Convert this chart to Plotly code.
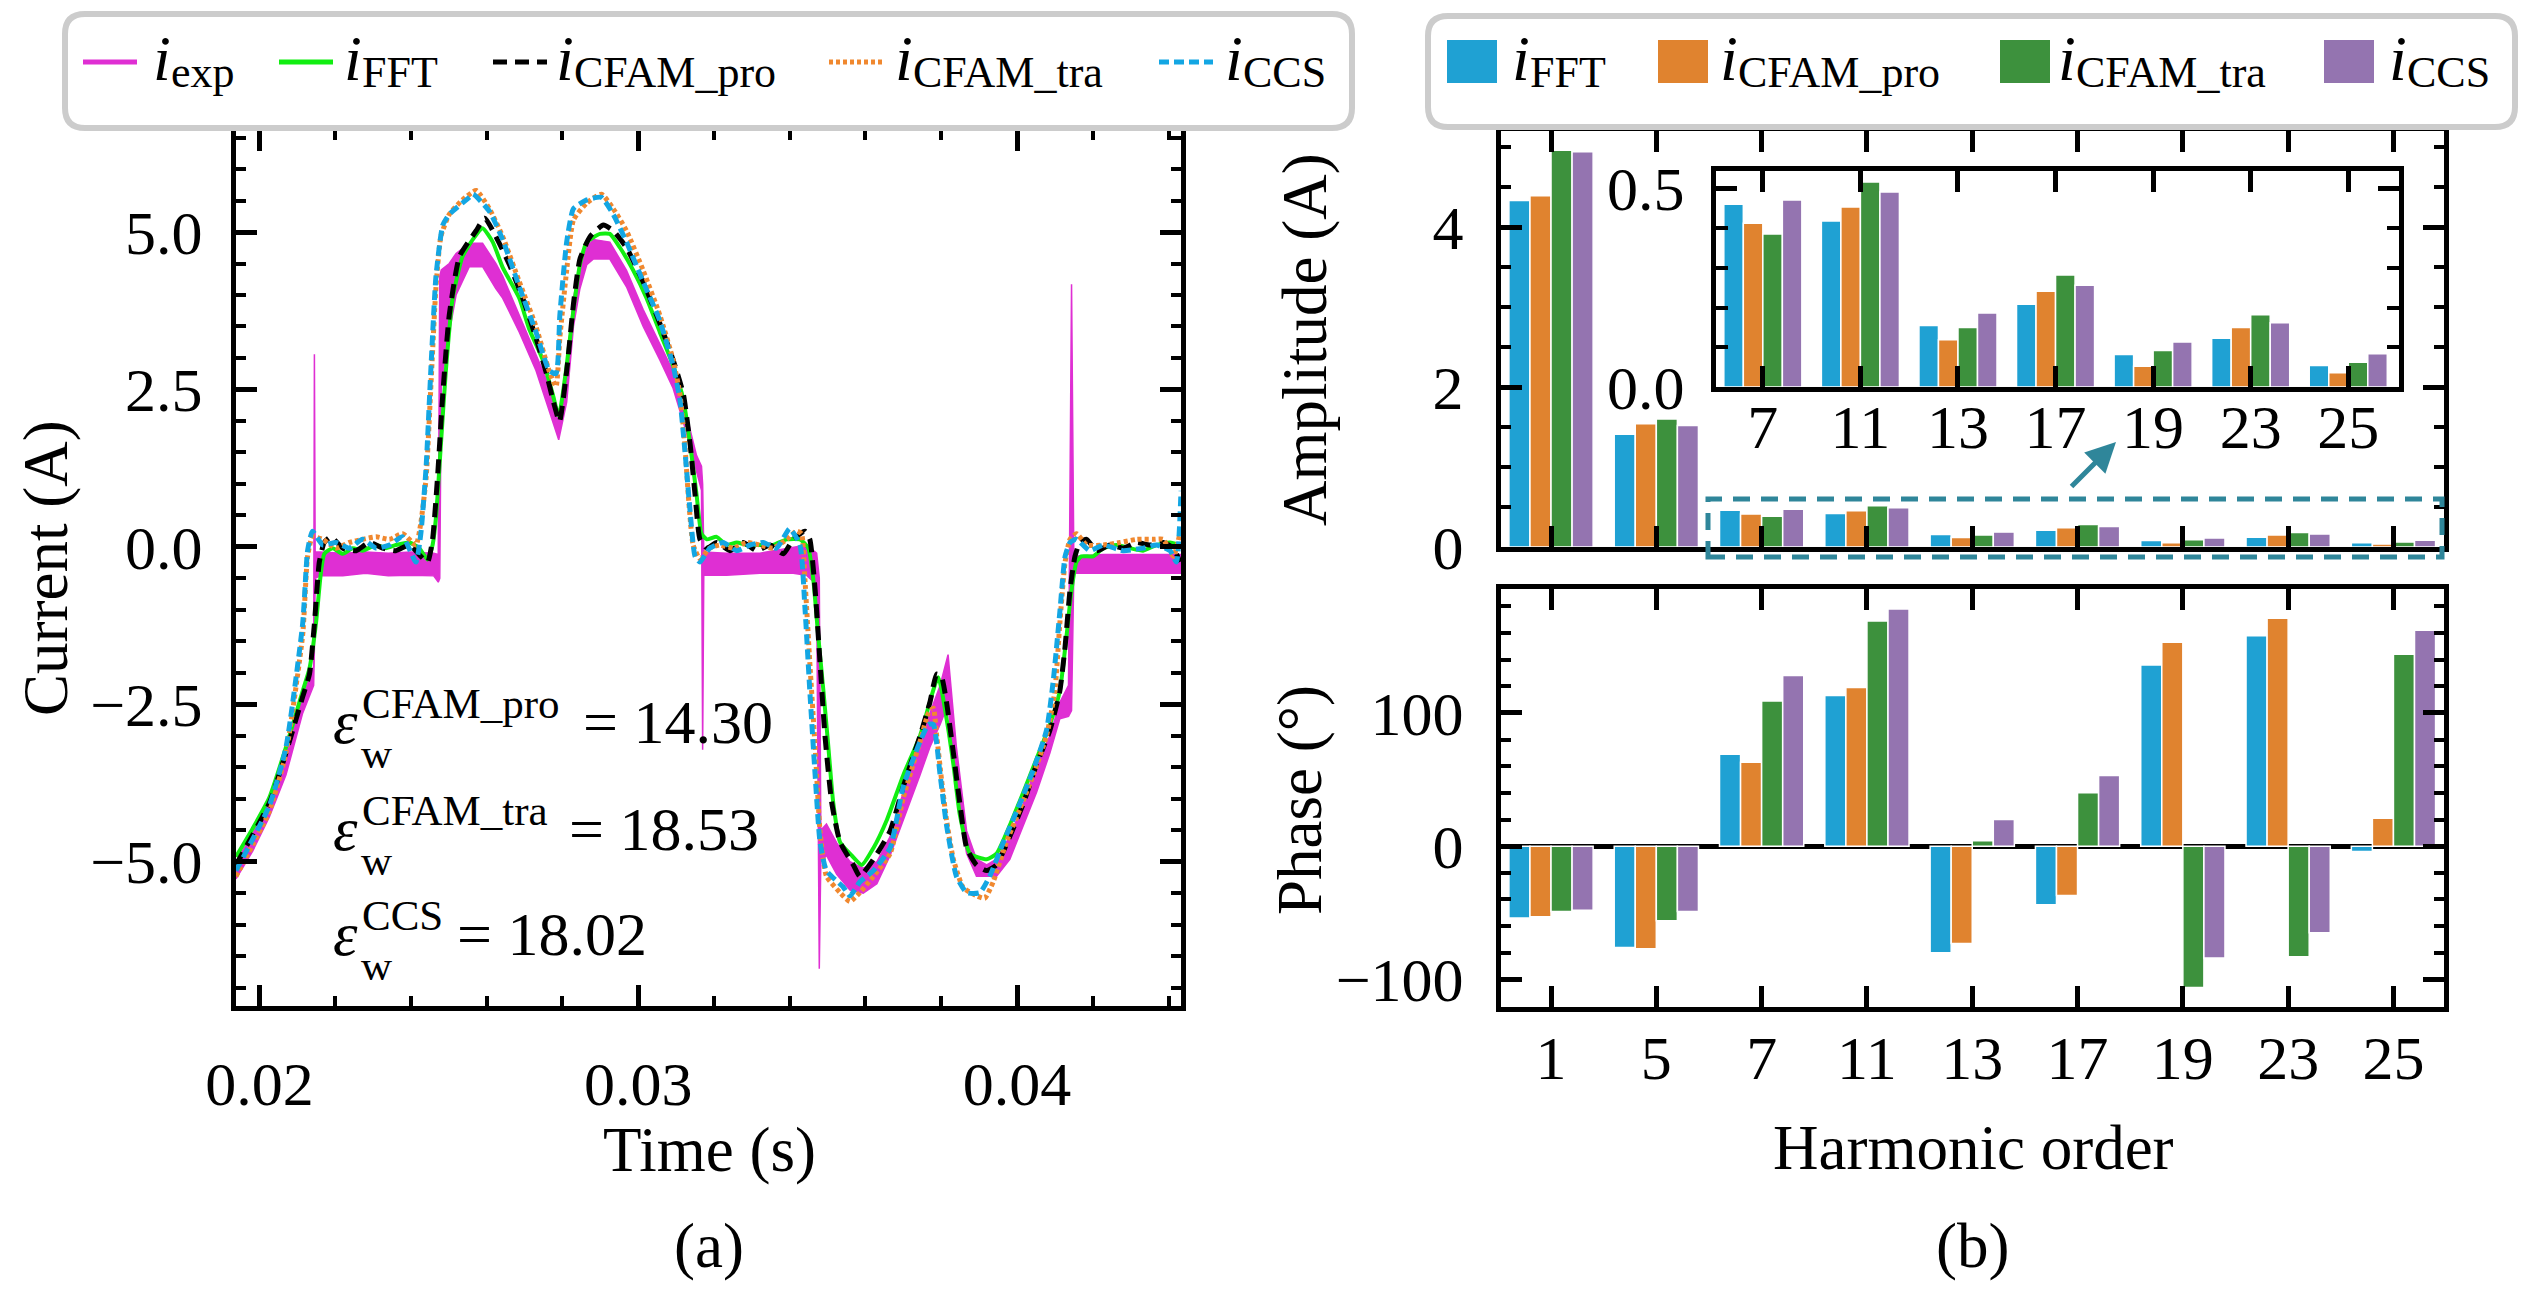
import plotly.graph_objects as go

# --- figure size; the page body keeps its 8 px margin, so the figure is
#     made 16 px smaller and layout positions are measured from the page corner ---
PAGE_OFF = 8
W, H = 2526, 1276
FONT = "Liberation Serif"


def px(x):
    return (x - PAGE_OFF) / W


def py(y):
    return 1 - (y - PAGE_OFF) / H


# --- (a) time-domain currents (t in ms, i in A) ---
t_exp = [19.38, 19.82, 20.26, 20.70, 21.14, 21.36, 21.43, 21.45, 21.47, 21.60, 22.20, 22.80,
         23.40, 24.00, 24.60, 24.72, 24.76, 24.80, 25.01, 25.19, 25.54, 25.89, 26.24, 26.42,
         26.86, 27.30, 27.74, 27.90, 28.11, 28.29, 28.46, 28.64, 28.81, 29.25, 29.69, 30.13,
         30.57, 30.92, 31.28, 31.54, 31.67, 31.70, 31.73, 32.33, 33.21, 34.09, 34.44, 34.71,
         34.78, 34.82, 34.97, 35.24, 35.59, 35.94, 36.30, 36.65, 37.00, 37.44, 37.70, 37.97,
         38.18, 38.40, 38.67, 38.93, 39.20, 39.46, 39.81, 40.17, 40.52, 40.87, 41.13, 41.36,
         41.44, 41.50, 42.28, 43.16, 44.33]
exp_hi = [-5.00, -4.56, -4.02, -3.27, -2.38, -2.02, -1.90, 3.06, -0.08, -0.08, -0.10, -0.08,
          -0.10, -0.08, -0.10, -0.12, 4.30, 4.40, 4.50, 4.66, 4.82, 4.82, 4.50, 4.30,
          3.68, 3.06, 2.43, 1.99, 2.90, 3.95, 4.48, 4.75, 4.88, 4.84, 4.39, 3.77,
          3.23, 2.79, 2.08, 1.45, 1.28, 1.00, -0.08, -0.10, -0.10, 0.00, 0.03, -0.10,
          -0.50, -4.50, -4.40, -4.70, -5.00, -5.10, -5.00, -4.60, -3.89, -3.00, -2.64, -2.20,
          -1.71, -3.18, -4.51, -4.96, -5.05, -4.96, -4.60, -4.07, -3.45, -3.00, -2.47, -2.20,
          4.17, -0.15, -0.12, -0.12, -0.12]
exp_lo = [-5.27, -4.83, -4.29, -3.62, -2.64, -2.29, -2.20, -1.60, -0.50, -0.46, -0.46, -0.42,
          -0.46, -0.45, -0.46, -0.56, -0.50, 2.60, 3.40, 4.00, 4.45, 4.45, 4.10, 3.95,
          3.41, 2.80, 2.00, 1.70, 2.30, 3.50, 4.10, 4.48, 4.57, 4.57, 4.13, 3.50,
          2.97, 2.52, 1.80, 1.20, 0.90, -3.22, -0.45, -0.45, -0.42, -0.42, -0.45, -0.60,
          -6.70, -5.00, -4.90, -5.20, -5.45, -5.50, -5.35, -4.90, -4.34, -3.62, -3.18, -2.82,
          -2.50, -3.89, -4.87, -5.23, -5.23, -5.23, -4.96, -4.42, -3.89, -3.27, -2.73, -2.69,
          -2.60, -0.42, -0.42, -0.42, -0.42]

t_fft = [19.38, 19.82, 20.26, 20.70, 21.14, 21.32, 21.49, 21.62, 21.71, 21.93, 22.20, 22.46,
         22.72, 23.08, 23.34, 23.60, 23.96, 24.22, 24.44, 24.57, 24.66, 24.79, 24.92, 25.10,
         25.36, 25.63, 25.89, 26.16, 26.42, 26.86, 27.12, 27.48, 27.74, 27.90, 28.11, 28.29,
         28.46, 28.64, 28.99, 29.25, 29.52, 29.87, 30.22, 30.57, 30.92, 31.19, 31.37, 31.54,
         31.67, 31.81, 32.07, 32.33, 32.60, 32.86, 33.21, 33.56, 33.92, 34.27, 34.49, 34.62,
         34.75, 34.89, 35.02, 35.15, 35.33, 35.59, 35.90, 36.21, 36.56, 37.00, 37.44, 37.92,
         38.14, 38.32, 38.49, 38.76, 39.20, 39.46, 39.81, 40.17, 40.52, 40.87, 41.13, 41.31,
         41.44, 41.57, 41.70, 42.01, 42.28, 42.63, 42.98, 43.33, 43.68, 44.04, 44.30]
i_fft = [-4.92, -4.47, -3.98, -3.18, -2.29, -1.93, -1.22, -0.42, -0.11, -0.02, -0.11, -0.02,
         -0.06, 0.03, -0.02, 0.03, 0.07, -0.02, -0.20, 0.03, 0.47, 1.63, 2.79, 3.95,
         4.61, 4.88, 5.06, 4.84, 4.44, 3.95, 3.46, 2.97, 2.43, 2.08, 2.88, 3.77,
         4.48, 4.84, 4.97, 4.97, 4.75, 4.39, 3.95, 3.41, 2.88, 2.34, 1.63, 0.83,
         0.21, 0.12, 0.16, 0.03, 0.07, 0.03, 0.03, 0.03, 0.12, 0.12, -0.02, -0.51,
         -1.40, -2.29, -3.18, -4.07, -4.69, -4.87, -5.05, -4.78, -4.34, -3.62, -3.00, -2.07,
         -2.73, -3.45, -4.25, -4.87, -4.96, -4.87, -4.42, -3.89, -3.36, -2.82, -2.29, -1.40,
         -0.68, -0.24, -0.15, -0.15, -0.02, 0.03, -0.02, -0.06, 0.03, 0.07, 0.03]

t_pro = [19.38, 20.26, 20.70, 21.14, 21.32, 21.45, 21.58, 21.71, 21.89, 22.20, 22.55, 22.90,
         23.25, 23.60, 23.96, 24.26, 24.44, 24.57, 24.70, 24.84, 25.01, 25.28, 25.72, 25.95,
         26.24, 26.60, 26.95, 27.30, 27.56, 27.78, 27.92, 28.11, 28.29, 28.46, 28.73, 29.08,
         29.34, 29.69, 30.13, 30.57, 30.92, 31.19, 31.37, 31.50, 31.63, 31.81, 32.07, 32.42,
         32.77, 33.13, 33.48, 33.83, 34.09, 34.40, 34.53, 34.67, 34.80, 34.93, 35.11, 35.33,
         35.68, 35.85, 36.21, 36.65, 37.00, 37.44, 37.70, 37.88, 38.01, 38.14, 38.32, 38.49,
         38.67, 38.93, 39.20, 39.46, 39.81, 40.17, 40.52, 40.87, 41.13, 41.27, 41.40, 41.53,
         41.66, 41.84, 42.10, 42.45, 42.80, 43.16, 43.51, 43.86, 44.13, 44.30]
i_pro = [-5.05, -4.07, -3.27, -2.38, -2.02, -1.22, -0.24, 0.07, 0.16, -0.02, -0.06, 0.07,
         -0.02, -0.06, 0.03, -0.15, -0.24, 0.12, 1.10, 2.43, 3.68, 4.61, 5.02, 5.22,
         4.93, 4.48, 3.95, 3.32, 2.79, 2.26, 1.99, 2.79, 3.86, 4.57, 4.93, 5.11,
         5.02, 4.75, 4.21, 3.55, 2.97, 2.43, 1.63, 0.83, 0.12, -0.02, 0.07, -0.06,
         0.07, -0.06, 0.03, -0.11, 0.12, 0.25, 0.12, -0.68, -1.84, -3.00, -4.07, -4.69,
         -5.05, -5.23, -4.96, -4.51, -3.80, -3.00, -2.47, -2.02, -2.07, -2.47, -3.27, -4.07,
         -4.78, -5.05, -5.14, -5.05, -4.60, -4.07, -3.45, -2.91, -2.29, -1.58, -0.68, -0.15,
         0.07, 0.12, -0.06, 0.03, -0.02, 0.07, 0.03, 0.07, -0.02, -0.24]

t_tra = [19.38, 20.26, 20.70, 21.14, 21.27, 21.40, 21.67, 22.02, 22.37, 22.72, 23.08, 23.43,
         23.78, 24.13, 24.26, 24.40, 24.53, 24.66, 24.79, 25.01, 25.36, 25.72, 26.07, 26.42,
         26.86, 27.30, 27.65, 27.83, 27.93, 28.11, 28.29, 28.64, 29.03, 29.34, 29.69, 30.13,
         30.57, 30.92, 31.10, 31.23, 31.32, 31.45, 31.63, 31.89, 32.16, 32.51, 32.86, 33.21,
         33.56, 33.92, 34.18, 34.31, 34.40, 34.53, 34.67, 34.80, 34.97, 35.33, 35.59, 35.85,
         36.21, 36.65, 37.00, 37.44, 37.66, 37.79, 37.88, 38.01, 38.14, 38.32, 38.58, 38.93,
         39.15, 39.37, 39.72, 40.08, 40.43, 40.78, 41.00, 41.13, 41.27, 41.40, 41.57, 41.84,
         42.28, 42.72, 43.16, 43.60, 43.86, 44.13, 44.30]
i_tra = [-5.23, -4.20, -3.27, -1.40, -0.15, 0.16, 0.12, -0.02, 0.07, 0.12, 0.16, 0.12,
         0.21, 0.03, 0.38, 1.10, 2.61, 4.13, 4.93, 5.28, 5.51, 5.66, 5.37, 4.93,
         4.21, 3.50, 2.79, 2.55, 3.32, 4.39, 5.19, 5.46, 5.60, 5.37, 5.02, 4.39,
         3.68, 2.97, 2.43, 1.63, 0.83, 0.03, -0.19, -0.02, 0.03, -0.02, 0.07, 0.03,
         -0.02, 0.12, 0.25, 0.21, -0.51, -1.84, -3.18, -4.51, -5.23, -5.49, -5.63, -5.49,
         -5.23, -4.87, -3.98, -3.09, -2.64, -2.56, -3.00, -3.71, -4.34, -4.96, -5.41, -5.54,
         -5.58, -5.32, -4.69, -4.16, -3.62, -3.00, -2.29, -1.22, -0.24, 0.12, 0.21, 0.03,
         0.03, 0.07, 0.12, 0.12, 0.12, -0.15, 0.21]

t_ccs = [19.38, 20.26, 20.70, 21.14, 21.27, 21.40, 21.67, 22.02, 22.37, 22.72, 23.08, 23.43,
         23.78, 24.13, 24.26, 24.40, 24.53, 24.66, 24.84, 25.01, 25.54, 25.64, 26.07, 26.42,
         26.86, 27.30, 27.65, 27.83, 27.93, 28.11, 28.29, 28.64, 29.03, 29.34, 29.69, 30.13,
         30.57, 30.92, 31.10, 31.23, 31.37, 31.50, 31.63, 31.89, 32.24, 32.60, 32.95, 33.30,
         33.65, 34.00, 34.27, 34.40, 34.53, 34.67, 34.80, 34.97, 35.41, 35.59, 35.85, 36.21,
         36.65, 37.00, 37.44, 37.66, 37.79, 37.97, 38.14, 38.40, 38.67, 39.02, 39.28, 39.64,
         40.08, 40.43, 40.78, 40.96, 41.13, 41.27, 41.40, 41.57, 41.92, 42.28, 42.80, 43.33,
         43.68, 44.04, 44.21, 44.33]
i_ccs = [-5.14, -4.11, -3.18, -1.22, -0.06, 0.25, 0.03, 0.07, -0.02, 0.12, -0.02, 0.03,
         0.16, -0.24, 0.21, 1.28, 2.88, 4.30, 5.11, 5.28, 5.55, 5.60, 5.33, 4.88,
         4.13, 3.41, 2.80, 2.75, 3.68, 4.84, 5.37, 5.51, 5.55, 5.28, 4.84, 4.21,
         3.59, 2.88, 2.34, 1.54, 0.56, -0.15, -0.24, -0.02, 0.07, -0.06, 0.03, 0.07,
         -0.02, 0.29, 0.03, -0.95, -2.29, -3.62, -4.69, -5.14, -5.40, -5.54, -5.32, -5.14,
         -4.78, -3.80, -3.09, -2.82, -2.82, -3.62, -4.42, -5.23, -5.49, -5.49, -5.23, -4.69,
         -4.07, -3.54, -2.91, -2.11, -1.04, -0.15, 0.07, 0.12, -0.06, 0.03, -0.06, -0.02,
         0.03, -0.06, -0.24, 0.89]

err_names = ["CFAM_pro", "CFAM_tra", "CCS"]
err_values = ["14.30", "18.53", "18.02"]

# --- (b) harmonic spectrum ---
harmonics = ["1", "5", "7", "11", "13", "17", "19", "23", "25"]
amp_fft = [4.33, 1.41, 0.460, 0.418, 0.155, 0.208, 0.082, 0.123, 0.054]
amp_pro = [4.39, 1.54, 0.412, 0.453, 0.119, 0.241, 0.052, 0.150, 0.036]
amp_tra = [4.96, 1.60, 0.385, 0.516, 0.150, 0.282, 0.092, 0.182, 0.062]
amp_ccs = [4.94, 1.52, 0.471, 0.491, 0.186, 0.256, 0.113, 0.162, 0.084]
ph_fft = [-54, -76, 69, 113, -80, -44, 136, 158, -4]
ph_pro = [-53, -77, 63, 119, -73, -37, 153, 171, 21]
ph_tra = [-49, -56, 109, 169, 4, 40, -106, -83, 144]
ph_ccs = [-48, -49, 128, 178, 20, 53, -84, -65, 162]

# --- colours ---
MAG = "#DF2FD3"
GREEN = "#11EE11"
ORANGE_L = "#F0882F"
BLUE_L = "#13A6E3"
C_FFT = "#1FA1D3"
C_PRO = "#E0832F"
C_TRA = "#3D913D"
C_CCS = "#9474B0"
TEAL = "#2F869A"

fig = go.Figure()


def sec(ms):
    return [v / 1000 for v in ms]


# experimental band (lower edge, then upper edge filled to it)
fig.add_trace(go.Scatter(x=sec(t_exp), y=exp_lo, mode="lines",
                         line=dict(color=MAG, width=1.5), hoverinfo="skip",
                         xaxis="x", yaxis="y"))
fig.add_trace(go.Scatter(x=sec(t_exp), y=exp_hi, mode="lines", fill="tonexty",
                         fillcolor=MAG, line=dict(color=MAG, width=1.5),
                         xaxis="x", yaxis="y", name="i_exp"))

curves = [
    (t_fft, i_fft, dict(color=GREEN, width=4), "i_FFT"),
    (t_pro, i_pro, dict(color="black", width=5, dash="14px,8px"), "i_CFAM_pro"),
    (t_tra, i_tra, dict(color=ORANGE_L, width=5, dash="4px,3px"), "i_CFAM_tra"),
    (t_ccs, i_ccs, dict(color=BLUE_L, width=5, dash="10px,5px"), "i_CCS"),
]
for t, i, ln, nm in curves:
    ln = dict(ln, shape="spline", smoothing=0.5)
    fig.add_trace(go.Scatter(x=sec(t), y=i, mode="lines", line=ln, name=nm,
                             xaxis="x", yaxis="y"))

bar_sets = [
    (amp_fft, ph_fft, C_FFT, "i_FFT"),
    (amp_pro, ph_pro, C_PRO, "i_CFAM_pro"),
    (amp_tra, ph_tra, C_TRA, "i_CFAM_tra"),
    (amp_ccs, ph_ccs, C_CCS, "i_CCS"),
]
for amp, ph, col, nm in bar_sets:
    mk = dict(color=col, line=dict(color="white", width=1.5))
    fig.add_trace(go.Bar(x=harmonics, y=amp, marker=mk, name=nm,
                         xaxis="x2", yaxis="y2"))
    fig.add_trace(go.Bar(x=harmonics, y=ph, marker=mk, name=nm,
                         xaxis="x3", yaxis="y3"))
    fig.add_trace(go.Bar(x=harmonics[2:], y=amp[2:], marker=mk, name=nm,
                         xaxis="x4", yaxis="y4"))

tickfont = dict(family=FONT, size=62, color="black")
base = dict(showline=True, linewidth=5, linecolor="black", mirror="ticks",
            ticks="inside", ticklen=21, tickwidth=5, tickcolor="black",
            showgrid=False, zeroline=False, tickfont=tickfont, automargin=False)


def minor(d, ln=10):
    return dict(dtick=d, ticks="inside", ticklen=ln, tickwidth=4,
                tickcolor="black", showgrid=False)


fig.update_layout(
    width=W, height=H,
    margin=dict(l=0, r=0, t=0, b=0, autoexpand=False),
    paper_bgcolor="white", plot_bgcolor="white",
    showlegend=False,
    barmode="group", bargap=0.2, bargroupgap=0,
    font=dict(family=FONT, size=62, color="black"),
    xaxis=dict(base, domain=[px(236), px(1181)], range=[0.01938, 0.04433],
               dtick=0.01, tick0=0, tickformat=".2f", minor=minor(0.002), anchor="y",
               ticklabelstandoff=20),
    yaxis=dict(base, domain=[py(1006), py(130)], range=[-7.29, 6.62],
               dtick=2.5, tick0=0, tickformat=".1f", minor=minor(0.5), anchor="x",
               ticklabelstandoff=16),
    xaxis2=dict(base, domain=[px(1501), px(2444)], type="category",
                range=[-0.475, 8.48], showticklabels=False, anchor="y2"),
    yaxis2=dict(base, domain=[py(547), py(131)], range=[0, 5.2],
                dtick=2, tick0=0, minor=minor(0.5), anchor="x2", ticklabelstandoff=20),
    xaxis3=dict(base, domain=[px(1501), px(2444)], type="category",
                range=[-0.475, 8.48], anchor="y3", ticklabelstandoff=-7),
    yaxis3=dict(base, domain=[py(1007), py(589)], range=[-120.7, 193],
                dtick=100, tick0=0, minor=minor(20), anchor="x3", ticklabelstandoff=20,
                zeroline=True, zerolinecolor="black", zerolinewidth=5),
    xaxis4=dict(base, domain=[px(1716), px(2399)], type="category",
                range=[-0.48, 6.52], anchor="y4", ticklabelstandoff=-18),
    yaxis4=dict(base, domain=[py(387), py(170.5)], range=[0, 0.545],
                dtick=0.5, tick0=0, tickformat=".1f", minor=minor(0.1, 12), anchor="x4",
                ticklabelstandoff=14),
)

ann = []


def text(x, y, s, size=63, angle=0, xanchor="center", italic=False, pad=1):
    ann.append(dict(x=px(x), y=py(y), xref="paper", yref="paper", text=s,
                    showarrow=False, textangle=angle, xanchor=xanchor, yanchor="middle",
                    borderpad=pad, borderwidth=0 if pad == 0 else 1,
                    font=dict(family=FONT, size=size, color="black",
                              style="italic" if italic else "normal")))


# axis titles and panel labels
text(46, 568, "Current (A)", angle=-90)
text(709, 1150, "Time (s)")
text(1305, 340, "Amplitude (A)", angle=-90)
text(1300, 800, "Phase (°)", angle=-90)
text(1973, 1148, "Harmonic order")
text(709, 1246, "(a)")
text(1972, 1246, "(b)")

# error indices: epsilon with stacked subscript and superscript
eq_rows = [(722, 583), (829, 569), (934, 457)]
for (yc, xeq), nm, val in zip(eq_rows, err_names, err_values):
    text(333, yc, "ε", size=62, xanchor="left", italic=True, pad=0)
    text(361, yc + 31, "w", size=43, xanchor="left", pad=0)
    text(362, yc - 19, nm, size=43, xanchor="left", pad=0)
    text(xeq, yc, "= " + val, size=62, xanchor="left", pad=0)

# --- legends drawn by hand (line samples, swatches, labels, rounded boxes) ---
shapes = []


def rounded_box(x0, y0, x1, y1, r=20):
    X0, X1, Y0, Y1 = px(x0), px(x1), py(y0), py(y1)
    rx, ry = r / W, r / H
    path = (f"M{X0 + rx},{Y0} L{X1 - rx},{Y0} Q{X1},{Y0} {X1},{Y0 - ry} "
            f"L{X1},{Y1 + ry} Q{X1},{Y1} {X1 - rx},{Y1} L{X0 + rx},{Y1} "
            f"Q{X0},{Y1} {X0},{Y1 + ry} L{X0},{Y0 - ry} Q{X0},{Y0} {X0 + rx},{Y0} Z")
    shapes.append(dict(type="path", path=path, xref="paper", yref="paper",
                       line=dict(color="#CCCCCC", width=6), fillcolor="rgba(0,0,0,0)",
                       layer="above"))


def legend_label(xt, sub):
    text(xt, 58, "i", size=64, xanchor="left", italic=True, pad=0)
    text(xt + 18, 72, sub, size=44, xanchor="left", pad=0)


rounded_box(65, 14, 1352, 128)
rounded_box(1428, 16, 2515, 127)

line_legend = [
    (83, 153, dict(color=MAG, width=5), "exp"),
    (279, 344, dict(color=GREEN, width=5), "FFT"),
    (493, 556, dict(color="black", width=5, dash="14px,8px"), "CFAM_pro"),
    (829, 895, dict(color=ORANGE_L, width=5, dash="4px,3px"), "CFAM_tra"),
    (1159, 1225, dict(color=BLUE_L, width=5, dash="10px,5px"), "CCS"),
]
for x0, xt, ln, sub in line_legend:
    shapes.append(dict(type="line", xref="paper", yref="paper", x0=px(x0), x1=px(x0 + 54),
                       y0=py(62), y1=py(62), line=ln, layer="above"))
    legend_label(xt, sub)

bar_legend = [(1447, 1512, C_FFT, "FFT"), (1658, 1720, C_PRO, "CFAM_pro"),
              (2000, 2058, C_TRA, "CFAM_tra"), (2324, 2389, C_CCS, "CCS")]
for x0, xt, col, sub in bar_legend:
    shapes.append(dict(type="rect", xref="paper", yref="paper", x0=px(x0), x1=px(x0 + 50),
                       y0=py(83), y1=py(40), fillcolor=col, line=dict(width=0), layer="above"))
    legend_label(xt, sub)

# zoom box around the small harmonics and arrow to the inset
shapes.append(dict(type="rect", xref="paper", yref="paper", x0=px(1708), x1=px(2442),
                   y0=py(557), y1=py(499), line=dict(color=TEAL, width=5, dash="17px,11px"),
                   layer="above"))
ann.append(dict(x=px(2116), y=py(442), ax=-46, ay=46, xref="paper", yref="paper",
                axref="pixel", ayref="pixel", text="", showarrow=True, arrowhead=2,
                arrowsize=1.2, arrowwidth=5, arrowcolor=TEAL, standoff=0))

fig.update_layout(annotations=ann, shapes=shapes)

fig.write_html("out.html")
